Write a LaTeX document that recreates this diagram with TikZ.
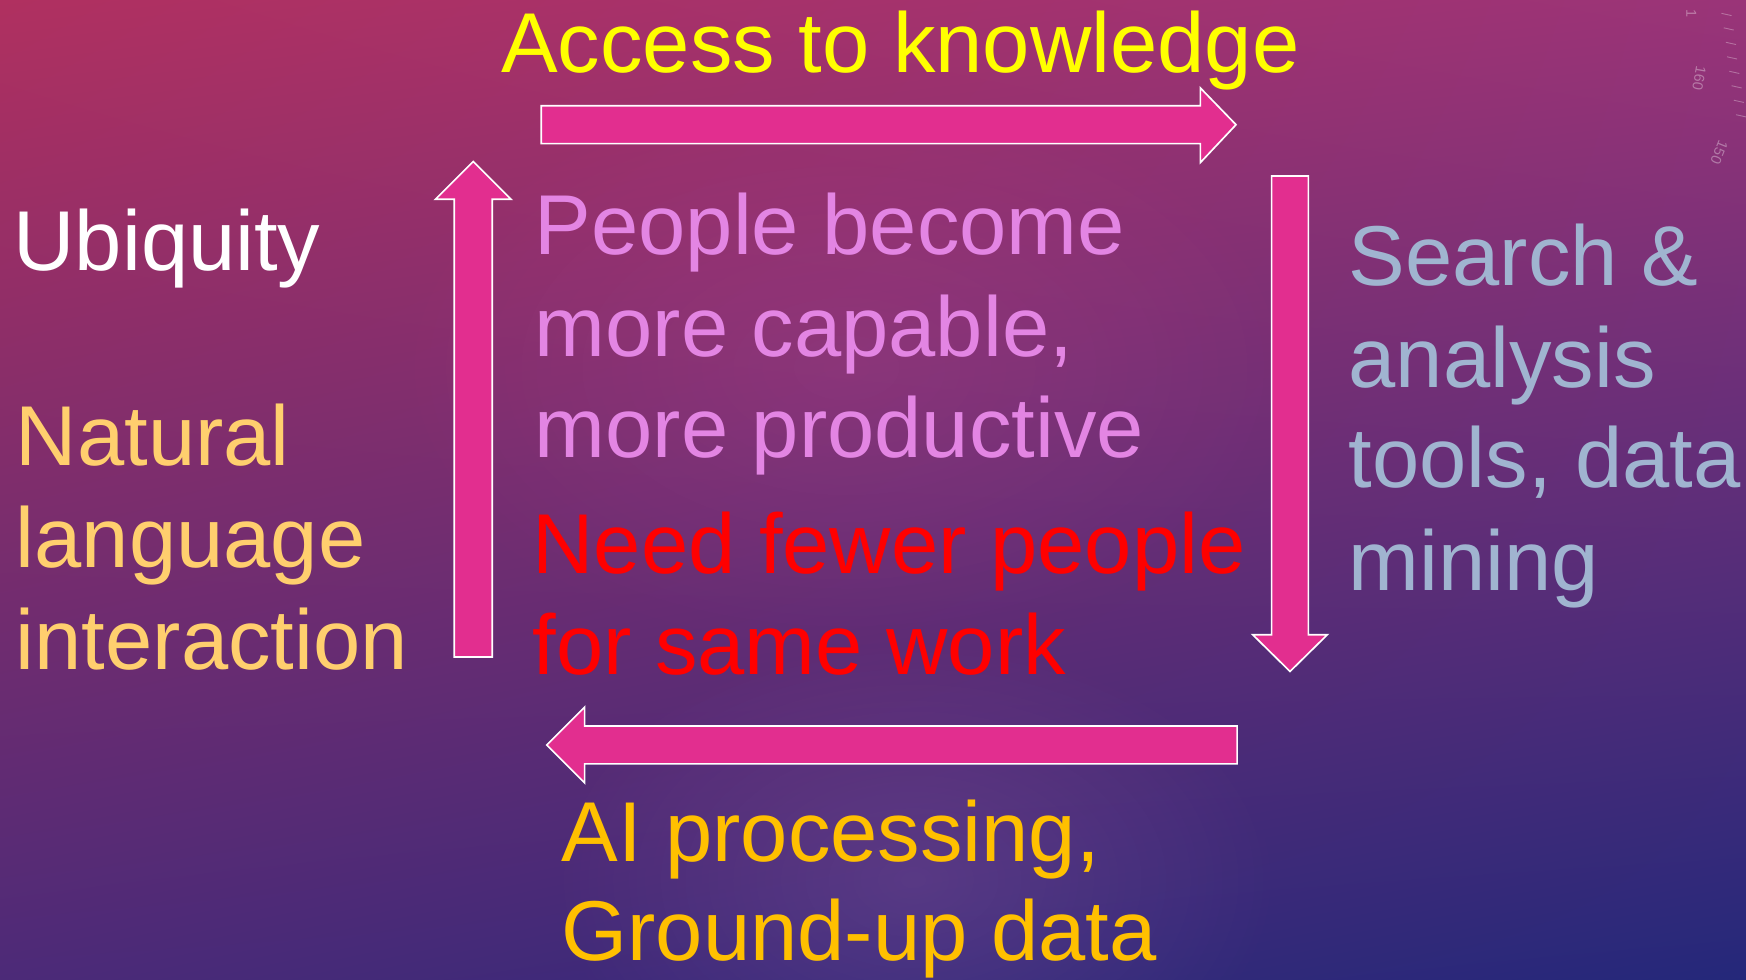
\documentclass[tikz,border=0pt]{standalone}
\usepackage{fontspec}
\setmainfont{Liberation Sans}
\usetikzlibrary{fadings,shadings}
\tikzfading[name=softglow, inner color=transparent!0, outer color=transparent!100]
\definecolor{bgUL}{HTML}{B03060}
\definecolor{bgUR}{HTML}{9A3478}
\definecolor{bgLL}{HTML}{4C2A78}
\definecolor{bgLR}{HTML}{24287A}
\definecolor{arrowpink}{HTML}{E22E8F}
\definecolor{txtyellow}{HTML}{FFFF00}
\definecolor{txtorchid}{HTML}{E385E3}
\definecolor{txtsteel}{HTML}{A0B4D0}
\definecolor{txtpeach}{HTML}{FFCF6E}
\definecolor{txtgold}{HTML}{FFC000}
\definecolor{txtred}{HTML}{FF0000}
\tikzset{
  big/.style={inner sep=0pt, anchor=base west, font=\fontsize{76.3}{91}\selectfont},
  blockarrow/.style={fill=arrowpink, draw=white, line width=1.5pt, line join=miter},
  ruler/.style={white, opacity=0.35, font=\fontsize{13}{13}\selectfont, inner sep=0pt}
}
\begin{document}
\begin{tikzpicture}[x=1pt,y=-1pt]
\useasboundingbox (0,0) rectangle (1568,880);
% background
\shade[upper left=bgUL, upper right=bgUR, lower left=bgLL, lower right=bgLR] (0,0) rectangle (1568,880);
\fill[color=violet!50!white, path fading=softglow, opacity=0.18] (820,790) ellipse (330 and 220);
\fill[color=magenta!60!white, path fading=softglow, opacity=0.12] (760,330) ellipse (420 and 260);
% faint ruler in the corner
\foreach \yy/\xx in {12/1546,25/1548,38/1550,51/1551,64/1553,77/1555,90/1557,103/1559}
  \draw[white, opacity=0.3, line width=0.8pt] (\xx,\yy) -- (\xx+9,\yy+2);
\node[ruler, rotate=-90] (r1) at (1519,12) {1};
\node[ruler, rotate=-100] (r160) at (1526,70) {160};
\node[ruler, rotate=-112] (r150) at (1544,137) {150};
% arrows
\draw[blockarrow] (486,95) -- (1078,95) -- (1078,79) -- (1110,112) -- (1078,146) -- (1078,129) -- (486,129) -- cycle;
\draw[blockarrow] (1142,158) -- (1175,158) -- (1175,570) -- (1192,570) -- (1158.5,603) -- (1125,570) -- (1142,570) -- cycle;
\draw[blockarrow] (1111,652) -- (1111,686) -- (525,686) -- (525,703) -- (491,669) -- (525,635) -- (525,652) -- cycle;
\draw[blockarrow] (408,590) -- (408,179) -- (391,179) -- (425,145) -- (459,179) -- (442,179) -- (442,590) -- cycle;
% texts
\node[big, text=txtyellow] (access) at (450,65) {Access to knowledge};
\node[big, text=white] (ubiq) at (12,243) {Ubiquity};
\node[big, text=txtpeach] (nat1) at (14,418) {Natural};
\node[big, text=txtpeach] (nat2) at (14,510) {language};
\node[big, text=txtpeach] (nat3) at (14,601) {interaction};
\node[big, text=txtorchid] (ppl1) at (480,229) {People become};
\node[big, text=txtorchid] (ppl2) at (480,320) {more capable,};
\node[big, text=txtorchid] (ppl3) at (480,411) {more productive};
\node[big, text=txtred] (need1) at (478,515) {Need fewer people};
\node[big, text=txtred] (need2) at (478,606) {for same work};
\node[big, text=txtsteel] (srch1) at (1211,256) {Search \&};
\node[big, text=txtsteel] (srch2) at (1211,348) {analysis};
\node[big, text=txtsteel] (srch3) at (1211,438) {tools, data};
\node[big, text=txtsteel] (srch4) at (1211,530) {mining};
\node[big, text=txtgold] (ai1) at (504,774) {AI processing,};
\node[big, text=txtgold] (ai2) at (504,863) {Ground-up data};
\end{tikzpicture}
\end{document}
